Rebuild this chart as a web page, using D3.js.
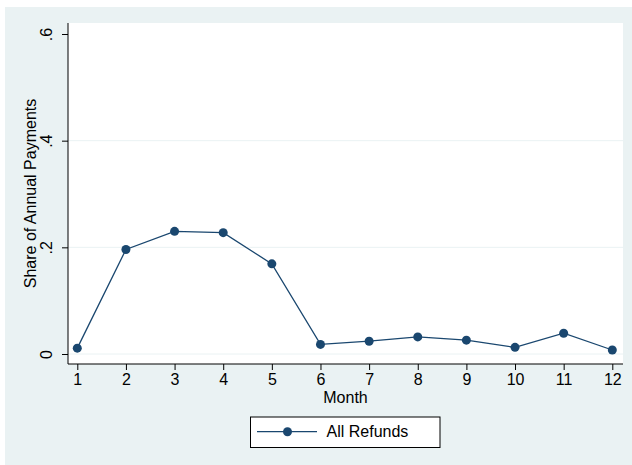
<!DOCTYPE html>
<html>
<head>
<meta charset="utf-8">
<script src="https://cdn.jsdelivr.net/npm/d3@7"></script>
<style>
  html, body { margin: 0; padding: 0; background: #ffffff; }
  svg { display: block; }
  text { font-family: "Liberation Sans", Arial, sans-serif; fill: #000; }
</style>
</head>
<body>
<svg id="chart" width="632" height="465"></svg>
<script>
// Monthly share of annual refund payments
const months = [1, 2, 3, 4, 5, 6, 7, 8, 9, 10, 11, 12];
const allRefunds = [0.011, 0.196, 0.230, 0.2275, 0.169, 0.018, 0.024, 0.032, 0.026, 0.0125, 0.039, 0.0075];
const yTicks = [0, 0.2, 0.4, 0.6];
const yTickLabels = ["0", ".2", ".4", ".6"];
const seriesName = "All Refunds";
const xTitle = "Month";
const yTitle = "Share of Annual Payments";

const navy = "#1a476f";
const bg = "#eaf2f3";
const fontSize = 16;

const svg = d3.select("#chart");

// Outer graph region
svg.append("rect").attr("x", 5).attr("y", 7).attr("width", 627).attr("height", 458).attr("fill", bg);

const plot = { left: 68, right: 623, top: 23, bottom: 364 };
svg.append("rect")
  .attr("x", plot.left).attr("y", plot.top)
  .attr("width", plot.right - plot.left).attr("height", plot.bottom - plot.top)
  .attr("fill", "#ffffff");

const x = d3.scaleLinear().domain([1, 12]).range([77.3, 612.3]);
const y = d3.scaleLinear().domain([0, 0.6]).range([354, 34]);

// Horizontal gridlines
svg.append("g").selectAll("line")
  .data(yTicks.filter(t => t < 0.6))
  .join("line")
  .attr("x1", plot.left).attr("x2", plot.right)
  .attr("y1", d => y(d)).attr("y2", d => y(d))
  .attr("stroke", bg).attr("stroke-width", 1);

// Y axis with labels rotated to read upward
const yAxis = svg.append("g")
  .attr("transform", `translate(${plot.left},0)`)
  .call(d3.axisLeft(y).tickValues(yTicks).tickSize(6)
    .tickFormat((d, i) => yTickLabels[i]));
yAxis.select(".domain").attr("d", `M0,${plot.top}V${plot.bottom}`).attr("stroke", "#000");
yAxis.selectAll(".tick line").attr("stroke", "#000");
yAxis.selectAll(".tick text")
  .attr("font-size", fontSize)
  .attr("font-family", "Liberation Sans, Arial, sans-serif")
  .attr("text-anchor", "middle")
  .attr("transform", "translate(-16.5,0) rotate(-90)")
  .attr("x", 0).attr("y", 0).attr("dy", 0);

// X axis
const xAxis = svg.append("g")
  .attr("transform", `translate(0,${plot.bottom})`)
  .call(d3.axisBottom(x).tickValues(months).tickSize(6).tickPadding(4).tickFormat(d3.format("d")));
xAxis.select(".domain").attr("d", `M${plot.left},0H${plot.right}`).attr("stroke", "#000");
xAxis.selectAll(".tick line").attr("stroke", "#000");
xAxis.selectAll(".tick text")
  .attr("font-size", fontSize)
  .attr("font-family", "Liberation Sans, Arial, sans-serif");

// Axis titles
svg.append("text")
  .attr("x", (plot.left + plot.right) / 2).attr("y", 402.5)
  .attr("text-anchor", "middle").attr("font-size", fontSize)
  .text(xTitle);
svg.append("text")
  .attr("transform", `translate(36,${(plot.top + plot.bottom) / 2}) rotate(-90)`)
  .attr("text-anchor", "middle").attr("font-size", fontSize)
  .text(yTitle);

// Series line and markers
const data = months.map((m, i) => ({ m, v: allRefunds[i] }));
svg.append("path")
  .datum(data)
  .attr("fill", "none")
  .attr("stroke", navy)
  .attr("stroke-width", 1.3)
  .attr("d", d3.line().x(d => x(d.m)).y(d => y(d.v)));
svg.append("g").selectAll("circle")
  .data(data)
  .join("circle")
  .attr("cx", d => x(d.m)).attr("cy", d => y(d.v))
  .attr("r", 4.5).attr("fill", navy);

// Legend
const legend = svg.append("g");
legend.append("rect")
  .attr("x", 250.5).attr("y", 417).attr("width", 189.5).attr("height", 30.5)
  .attr("fill", "#ffffff").attr("stroke", "#000").attr("stroke-width", 1);
legend.append("line")
  .attr("x1", 257).attr("x2", 317).attr("y1", 431.7).attr("y2", 431.7)
  .attr("stroke", navy).attr("stroke-width", 1.3);
legend.append("circle").attr("cx", 287.5).attr("cy", 431.7).attr("r", 4.5).attr("fill", navy);
legend.append("text")
  .attr("x", 326.5).attr("y", 437).attr("font-size", fontSize)
  .text(seriesName);
</script>
</body>
</html>
